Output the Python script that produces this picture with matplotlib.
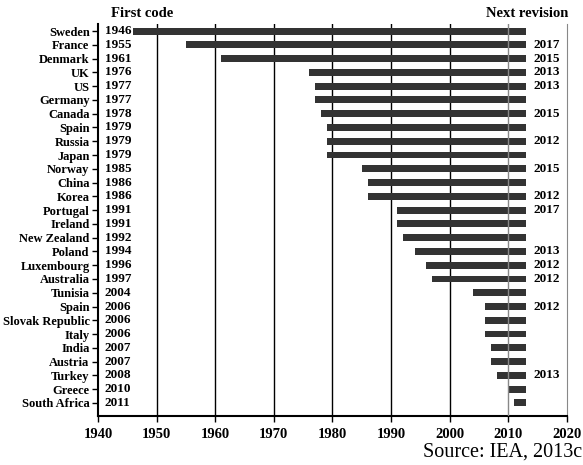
import numpy as np
import matplotlib
matplotlib.use("Agg")
import matplotlib.pyplot as plt

plt.rcParams["font.family"] = "Liberation Serif"
plt.rcParams["font.weight"] = "bold"

countries = ["Sweden", "France", "Denmark", "UK", "US", "Germany", "Canada",
             "Spain", "Russia", "Japan", "Norway", "China", "Korea", "Portugal",
             "Ireland", "New Zealand", "Poland", "Luxembourg", "Australia",
             "Tunisia", "Spain", "Slovak Republic", "Italy", "India", "Austria",
             "Turkey", "Greece", "South Africa"]
first_code = [1946, 1955, 1961, 1976, 1977, 1977, 1978, 1979, 1979, 1979,
              1985, 1986, 1986, 1991, 1991, 1992, 1994, 1996, 1997, 2004,
              2006, 2006, 2006, 2007, 2007, 2008, 2010, 2011]
next_revision = [None, 2017, 2015, 2013, 2013, None, 2015, None, 2012, None,
                 2015, None, 2012, 2017, None, None, 2013, 2012, 2012, None,
                 2012, None, None, None, None, 2013, None, None]
last_year = 2013
x_ticks = list(range(1940, 2021, 10))

fig = plt.figure(figsize=(5.83, 4.65), dpi=100)
ax = fig.add_axes([0.168, 0.1054, 0.8046, 0.8426])

y = np.arange(len(countries))
start = np.array(first_code)
ax.barh(y, last_year - start, left=start, height=0.5, color="#333333", zorder=2)

for x in x_ticks[1:-1]:
    col = "#888888" if x == 2010 else "black"
    ax.axvline(x, color=col, lw=1, zorder=3 if x == 2010 else 1)

for i in range(len(countries)):
    ax.text(1941.2, y[i], str(first_code[i]), va="center", ha="left", fontsize=9.5)
    if next_revision[i] is not None:
        ax.text(2014.2, y[i], str(next_revision[i]), va="center", ha="left", fontsize=9.5)

ax.set_xlim(1940, 2020)
ax.set_ylim(len(countries) - 0.05, -0.5)
ax.set_yticks(y)
ax.set_yticklabels(countries)
ax.set_xticks(x_ticks)
ax.tick_params(axis="y", length=4, width=1, labelsize=9, pad=2)
ax.tick_params(axis="x", length=4, width=1, labelsize=10.5, pad=5)
for lab in ax.get_xticklabels() + ax.get_yticklabels():
    lab.set_fontweight("bold")

ax.spines["top"].set_visible(False)
ax.spines["right"].set_color("#888888")
ax.spines["left"].set_linewidth(1.5)
ax.spines["bottom"].set_linewidth(1.5)

fig.text(0.243, 0.970, "First code", ha="center", va="center", fontsize=10.5)
fig.text(0.905, 0.970, "Next revision", ha="center", va="center", fontsize=10.5)
fig.text(0.998, 0.028, "Source: IEA, 2013c", ha="right", va="center",
         fontsize=14.5, fontweight="normal")

fig.savefig("out.png", dpi=100)
